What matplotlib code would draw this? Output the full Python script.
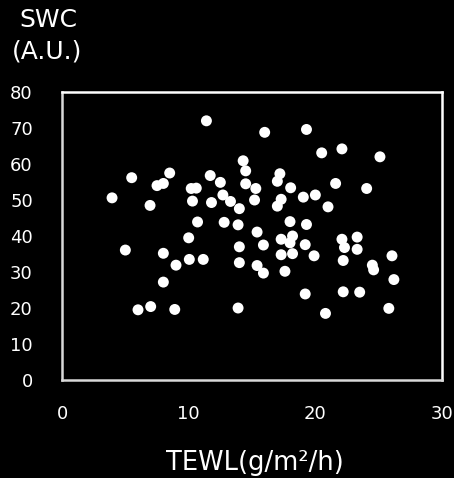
import numpy as np
import matplotlib.pyplot as plt

# TEWL vs SWC scatter
tewl = [11.4, 5.5, 8.5, 8.0, 7.5, 3.95, 6.95, 11.7, 12.5, 14.3,
        14.5, 14.5, 10.2, 10.6, 10.3, 11.8, 12.7, 13.3, 14.0, 10.7,
        12.8, 13.9, 10.0, 5.0, 8.0, 9.0, 10.05, 11.15, 14.0, 14.0,
        8.0, 6.0, 7.0, 8.9, 13.9, 16.0, 19.3, 20.5, 22.1, 25.1,
        15.3, 17.2, 17.0, 18.05, 19.05, 20.0, 21.6, 24.05, 15.2, 17.3,
        17.0, 21.0, 18.0, 19.3, 15.4, 15.9, 17.3, 18.2, 18.0, 19.2,
        17.3, 18.2, 19.9, 15.4, 15.9, 17.6, 22.1, 23.3, 22.3, 23.3,
        22.2, 24.5, 24.6, 26.05, 26.2, 19.2, 22.2, 23.5, 25.8, 20.8]
swc = [72.0, 56.2, 57.5, 54.6, 54.0, 50.6, 48.5, 56.8, 54.9, 60.9,
       58.1, 54.5, 53.2, 53.3, 49.7, 49.3, 51.4, 49.6, 47.6, 43.9,
       43.8, 43.1, 39.5, 36.1, 35.2, 31.9, 33.5, 33.5, 37.0, 32.6,
       27.2, 19.5, 20.4, 19.6, 20.0, 68.8, 69.6, 63.1, 64.2, 62.0,
       53.2, 57.3, 55.2, 53.4, 50.8, 51.4, 54.6, 53.2, 50.0, 50.2,
       48.3, 48.1, 44.0, 43.2, 41.1, 37.5, 39.1, 40.0, 38.1, 37.6,
       34.8, 35.1, 34.5, 31.8, 29.7, 30.2, 39.1, 39.7, 36.8, 36.3,
       33.2, 31.9, 30.6, 34.5, 27.9, 23.9, 24.5, 24.4, 19.9, 18.5]

x_ticks = [0, 10, 20, 30]
y_ticks = [0, 10, 20, 30, 40, 50, 60, 70, 80]

fig = plt.figure(figsize=(4.54, 4.78), dpi=100, facecolor='black')
ax = fig.add_axes([0.1366, 0.205, 0.837, 0.6025], facecolor='black')

ax.scatter(tewl, swc, s=62, color='white', edgecolors='none', zorder=3)

ax.set_xlim(0, 30)
ax.set_ylim(0, 80)
ax.set_xticks(x_ticks)
ax.set_yticks(y_ticks)
ax.tick_params(axis='x', length=0, pad=18, labelsize=13, labelcolor='white')
ax.tick_params(axis='y', length=0, pad=21, labelsize=13, labelcolor='white')
for lbl in ax.get_yticklabels():
    lbl.set_horizontalalignment('right')

for side in ['top', 'right']:
    ax.spines[side].set_color('white')
    ax.spines[side].set_linewidth(1.8)
for side in ['left', 'bottom']:
    ax.spines[side].set_color('#d9d9d9')
    ax.spines[side].set_linewidth(1.8)

fig.text(255 / 454, 1 - 463 / 478, 'TEWL(g/m²/h)', color='white', fontsize=18.5,
         ha='center', va='center')
fig.text(48 / 454, 1 - 20 / 478, 'SWC', color='white', fontsize=18,
         ha='center', va='center')
fig.text(47 / 454, 1 - 52 / 478, '(A.U.)', color='white', fontsize=18,
         ha='center', va='center')

fig.savefig('out.png', dpi=100, facecolor='black')
